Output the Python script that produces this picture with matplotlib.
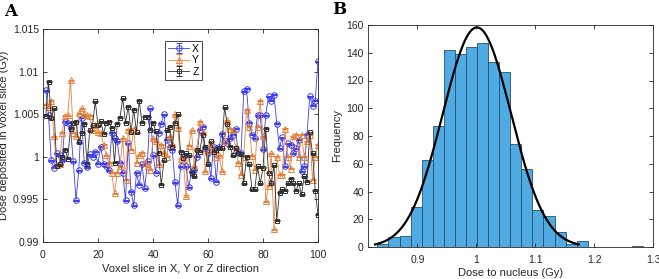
import matplotlib
matplotlib.use("Agg")
import matplotlib.pyplot as plt
import numpy as np

plt.rcParams["font.family"] = ["Liberation Sans", "DejaVu Sans"]

# ---- panel A: dose per voxel slice ----
slices = list(range(1, 101))
dose_x = [1.0078, 1.0049, 0.9996, 0.9987, 1.0004, 1.0002, 0.9996, 1.0041, 1.0040, 1.0034,
          0.9995, 0.9949, 0.9984, 1.0046, 0.9993, 0.9988, 1.0003, 1.0000, 1.0006, 0.9992,
          1.0012, 0.9992, 0.9989, 0.9984, 1.0028, 1.0022, 1.0018, 0.9993, 0.9981, 0.9949,
          1.0016, 0.9959, 0.9943, 0.9981, 0.9967, 0.9991, 0.9963, 0.9995, 1.0057, 1.0002,
          0.9981, 1.0028, 1.0039, 1.0050, 1.0020, 1.0012, 1.0008, 0.9970, 0.9943, 0.9989,
          1.0000, 0.9989, 0.9964, 0.9983, 0.9985, 1.0000, 1.0032, 1.0035, 1.0010, 1.0005,
          0.9975, 1.0012, 0.9971, 1.0011, 1.0027, 1.0018, 1.0016, 1.0022, 1.0026, 1.0033,
          1.0004, 1.0004, 1.0077, 1.0080, 1.0040, 1.0026, 1.0022, 1.0049, 1.0049, 1.0009,
          1.0049, 1.0071, 1.0066, 1.0073, 1.0039, 1.0010, 1.0023, 0.9989, 1.0016, 1.0014,
          1.0004, 1.0010, 1.0020, 0.9983, 0.9989, 1.0026, 1.0071, 1.0060, 1.0066, 1.0112]
dose_y = [1.0061, 1.0058, 1.0066, 1.0024, 0.9990, 0.9991, 1.0028, 1.0048, 1.0049, 1.0090,
          1.0028, 1.0024, 1.0051, 1.0057, 1.0050, 1.0049, 1.0048, 1.0031, 1.0037, 1.0029,
          1.0028, 1.0014, 1.0002, 0.9993, 0.9981, 0.9957, 0.9981, 0.9989, 1.0022, 0.9973,
          1.0032, 1.0008, 1.0033, 0.9993, 1.0002, 1.0005, 0.9993, 0.9989, 0.9985, 1.0022,
          1.0018, 0.9991, 1.0014, 1.0004, 1.0000, 1.0024, 1.0015, 1.0050, 1.0034, 0.9998,
          0.9997, 0.9954, 1.0013, 1.0031, 0.9989, 1.0010, 1.0041, 1.0029, 0.9983, 1.0008,
          1.0016, 1.0008, 1.0000, 1.0002, 0.9983, 1.0018, 1.0043, 1.0033, 1.0031, 1.0012,
          0.9993, 0.9979, 1.0000, 1.0055, 1.0035, 1.0001, 0.9985, 1.0035, 1.0066, 1.0024,
          0.9948, 0.9966, 1.0004, 0.9915, 1.0000, 0.9979, 0.9979, 1.0033, 1.0000, 0.9986,
          1.0024, 1.0026, 1.0000, 1.0026, 1.0000, 1.0018, 1.0026, 0.9973, 1.0000, 1.0014]
dose_z = [1.0048, 1.0088, 1.0045, 1.0057, 0.9989, 0.9991, 1.0000, 1.0008, 0.9998, 1.0033,
          1.0040, 1.0041, 1.0017, 1.0028, 1.0039, 0.9992, 1.0031, 1.0037, 1.0065, 1.0037,
          1.0042, 1.0027, 1.0040, 1.0041, 1.0034, 0.9993, 1.0039, 1.0046, 1.0069, 1.0040,
          1.0059, 1.0029, 1.0055, 1.0029, 1.0066, 1.0040, 1.0047, 1.0047, 1.0032, 1.0040,
          1.0030, 1.0005, 0.9967, 0.9996, 1.0031, 1.0035, 1.0012, 1.0040, 1.0050, 1.0006,
          0.9999, 1.0004, 1.0002, 0.9981, 0.9977, 1.0008, 1.0006, 1.0026, 1.0012, 0.9991,
          1.0018, 1.0006, 1.0008, 1.0010, 1.0010, 1.0058, 1.0039, 1.0012, 1.0002, 1.0010,
          1.0005, 1.0003, 0.9969, 1.0000, 0.9991, 0.9962, 0.9962, 0.9989, 0.9969, 0.9987,
          1.0033, 0.9981, 0.9969, 0.9990, 0.9925, 0.9958, 0.9962, 0.9960, 0.9969, 0.9974,
          0.9969, 0.9960, 0.9969, 0.9956, 0.9977, 0.9971, 1.0029, 1.0004, 0.9960, 0.9932]
dose_err = 0.00006  # error bars are tiny, drawn almost as a single cap

# ---- panel B: histogram of dose to nucleus ----
bin_start = 0.832
bin_width = 0.0188
counts = [2, 7, 8, 29, 63, 87, 142, 139, 144, 147, 133, 126,
          74, 56, 27, 22, 11, 2, 4, 0, 0, 0, 0, 1]
fit_mu = 1.001
fit_sigma = 0.058
fit_range = (0.828, 1.174)

GRAY = "#262626"

fig = plt.figure(figsize=(6.59, 2.79), dpi=100)
ax1 = fig.add_axes([43 / 659, 37 / 279, 275 / 659, 213 / 279])
ax2 = fig.add_axes([368 / 659, 32 / 279, 285 / 659, 222 / 279])

for ax in (ax1, ax2):
    ax.tick_params(direction="in", length=3, width=0.6, labelsize=7.5,
                   colors=GRAY, top=True, right=True, pad=3)
    ax.tick_params(axis="x", pad=6)
    for s in ax.spines.values():
        s.set_linewidth(0.6)
        s.set_color(GRAY)

series = [(dose_x, "X", "#3c3cf0", "o"),
          (dose_y, "Y", "#e6823c", "^"),
          (dose_z, "Z", "#303030", "s")]
for vals, lab, col, mk in series:
    ax1.errorbar(slices, vals, yerr=dose_err, color=col, lw=0.6, marker=mk,
                 ms=4 if mk != "s" else 3.4, mfc="none", mec=col, mew=0.7,
                 capsize=2.2, elinewidth=0.6, capthick=0.6, label=lab)

ax1.set_xlim(0, 100)
ax1.set_ylim(0.99, 1.015)
ax1.set_xticks(range(0, 101, 20))
ax1.set_yticks([0.99, 0.995, 1.0, 1.005, 1.01, 1.015])
ax1.set_yticklabels(["0.99", "0.995", "1", "1.005", "1.01", "1.015"])
ax1.set_xlabel("Voxel slice in X, Y or Z direction", fontsize=8, color=GRAY, labelpad=2)
ax1.set_ylabel("Dose deposited in voxel slice (Gy)", fontsize=8, color=GRAY, labelpad=3)
leg = ax1.legend(loc="upper left", bbox_to_anchor=(0.425, 0.97), fontsize=7.5,
                 fancybox=False, framealpha=1, edgecolor=GRAY, handlelength=2.0,
                 borderpad=0.3, labelspacing=0.15, handletextpad=0.3)
leg.get_frame().set_linewidth(0.6)

edges = bin_start + bin_width * np.arange(len(counts) + 1)
ax2.bar(edges[:-1], counts, width=bin_width, align="edge", color="#4fabe2",
        edgecolor="#24506e", linewidth=0.6)
xs = np.linspace(fit_range[0], fit_range[1], 300)
n_total = sum(counts)
pdf = n_total * bin_width / (fit_sigma * np.sqrt(2 * np.pi)) * np.exp(-(xs - fit_mu) ** 2 / (2 * fit_sigma ** 2))
ax2.plot(xs, pdf, color="black", lw=1.6)
ax2.set_xlim(0.816, 1.3)
ax2.set_ylim(0, 160)
ax2.set_xticks([0.9, 1.0, 1.1, 1.2, 1.3])
ax2.set_xticklabels(["0.9", "1", "1.1", "1.2", "1.3"])
ax2.set_yticks(range(0, 161, 20))
ax2.set_xlabel("Dose to nucleus (Gy)", fontsize=8, color=GRAY, labelpad=2)
ax2.set_ylabel("Frequency", fontsize=8, color=GRAY, labelpad=3)

fig.text(4 / 659, 1 - 16 / 279, "A", fontsize=12, fontweight="bold", family="DejaVu Serif")
fig.text(332 / 659, 1 - 14 / 279, "B", fontsize=12, fontweight="bold", family="DejaVu Serif")

fig.savefig("out.png", dpi=100)
